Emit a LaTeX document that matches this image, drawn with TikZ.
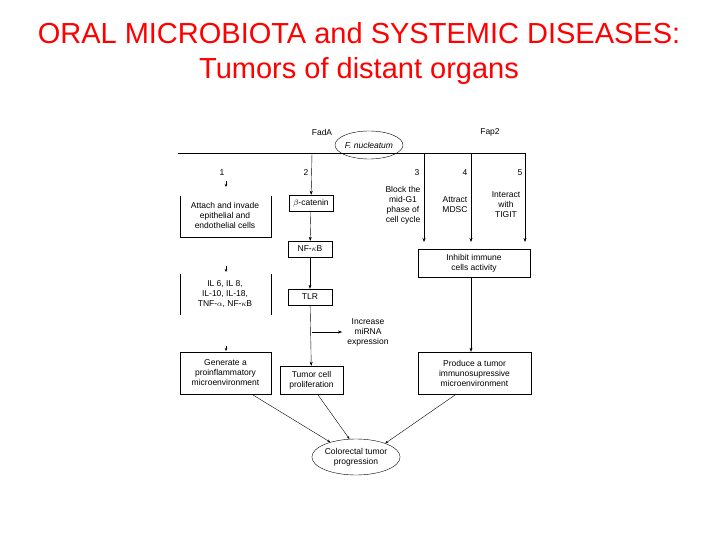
\documentclass[tikz,border=0pt]{standalone}
\usepackage{fontspec}
\setmainfont{Liberation Sans}
\usetikzlibrary{shapes.geometric,arrows.meta}
\begin{document}
\begin{tikzpicture}[x=1pt,y=-1pt,
  t/.style={font=\fontsize{8.5}{10}\selectfont,align=center,inner sep=0},
  bx/.style={draw,thin,font=\fontsize{8.5}{10}\selectfont,align=center,inner sep=1pt},
  ar/.style={thin,-{Stealth[length=4pt,width=3pt]}},
  sar/.style={thin,-{Stealth[length=3pt,width=2.5pt]}}]
\useasboundingbox (0,0) rectangle (720,540);
\node[font=\fontsize{29}{35}\selectfont,text=red,align=center] (title) at (359,54) {ORAL MICROBIOTA and SYSTEMIC DISEASES:\\Tumors of distant organs};
\node[draw,thin,ellipse,minimum width=64,minimum height=28,inner sep=0,font=\fontsize{8.5}{9}\selectfont\itshape] (fn) at (369,145) {F. nucleatum};
\node[t] (fada) at (322,132) {FadA};
\node[t] (fap2) at (490,132) {Fap2};
\coordinate (hl) at (178,153);
\coordinate (hr) at (525,153);
\draw[thin] (hl) -- (hr);
% branch labels
\node[t] (n1) at (222,173) {1};
\node[t] (n2) at (306,173) {2};
\node[t] (n3) at (417,173) {3};
\node[t] (n4) at (465,173) {4};
\node[t] (n5) at (520,173) {5};
% branch 1
\coordinate (a1) at (226,181); \coordinate (a1e) at (226,187);
\draw[sar] (a1) -- (a1e);
\node[t] (attach) at (225,215) {Attach and invade\\epithelial and\\endothelial cells};
\draw[thin] (180,196) -- (180,237) -- (271,237) -- (271,196);
\coordinate (a2) at (226,266); \coordinate (a2e) at (226,272);
\draw[sar] (a2) -- (a2e);
\node[t] (il) at (225,294) {IL 6, IL 8,\\IL-10, IL-18,\\TNF-$\alpha$, NF-$\kappa$B};
\draw[thin] (180,274) -- (180,315);
\draw[thin] (271,274) -- (271,315);
\coordinate (a3) at (226,346); \coordinate (a3e) at (226,351);
\draw[sar] (a3) -- (a3e);
\node[bx,minimum width=91,minimum height=42] (gen) at (225.5,373) {Generate a\\proinflammatory\\microenvironment};
% branch 2
\coordinate (b2) at (312,153);
\node[bx,minimum width=44,minimum height=16] (bcat) at (311,203) {$\beta$-catenin};
\node[bx,minimum width=44,minimum height=16] (nfkb) at (310,249) {NF-$\kappa$B};
\node[bx,minimum width=44,minimum height=16] (tlr) at (310,297) {TLR};
\node[bx,minimum width=63,minimum height=28] (tcp) at (311.5,380) {Tumor cell\\proliferation};
\draw[ar] (b2) -- (bcat);
\draw[ar] (bcat) -- (nfkb);
\draw[ar] (nfkb) -- (tlr);
\draw[ar] (tlr) -- (tcp);
\coordinate (br) at (312,332);
\coordinate (bre) at (342,332);
\draw[ar] (br) -- (bre);
\node[t] (mirna) at (368,332) {Increase\\miRNA\\expression};
% branch 3-5
\node[bx,minimum width=112,minimum height=28] (inh) at (474,263) {Inhibit immune\\cells activity};
\coordinate (b3) at (424,153); \coordinate (b3e) at (424,242);
\coordinate (b4) at (471,153); \coordinate (b4e) at (471,242);
\coordinate (b5) at (525,153); \coordinate (b5e) at (525,242);
\draw[ar] (b3) -- (b3e);
\draw[ar] (b4) -- (b4e);
\draw[ar] (b5) -- (b5e);
\node[t] (blk) at (403,205) {Block the\\mid-G1\\phase of\\cell cycle};
\node[t] (mdsc) at (455,205) {Attract\\MDSC};
\node[t] (tigit) at (506,205) {Interact\\with\\TIGIT};
\node[bx,minimum width=113,minimum height=42] (prod) at (474.5,373) {Produce a tumor\\immunosupressive\\microenvironment};
\draw[ar] (inh.south -| b4) -- (prod.north -| b4);
% final
\node[draw,thin,ellipse,minimum width=80,minimum height=36,inner sep=0,t] (crc) at (356,457) {Colorectal tumor\\progression};
\draw[sar] (253,395) -- (crc.150);
\draw[sar] (tcp.south) ++(6,0) -- (crc.110);
\draw[sar] (455,395) -- (crc.25);
\end{tikzpicture}
\end{document}
